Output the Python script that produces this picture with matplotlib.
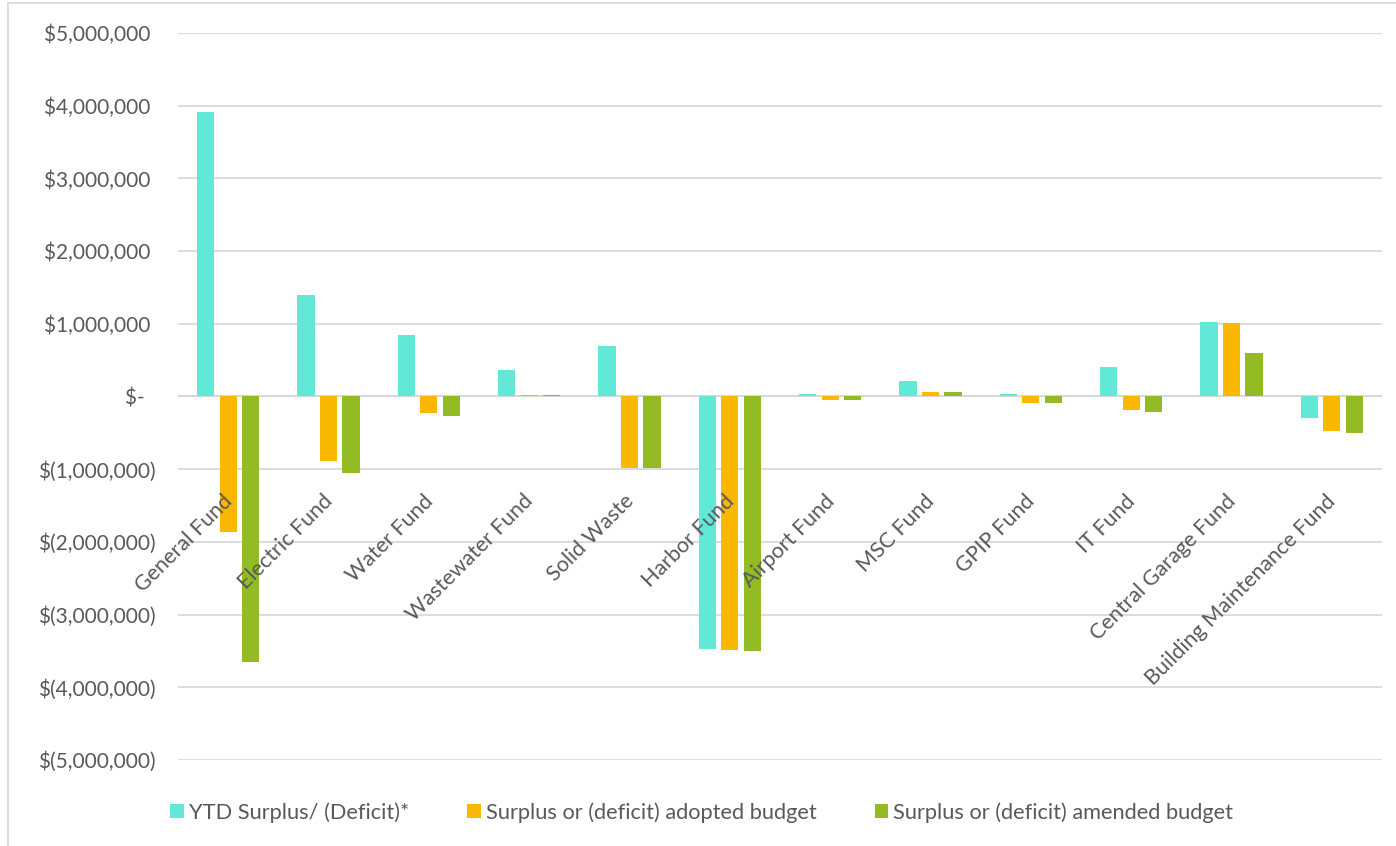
import matplotlib
matplotlib.use("Agg")
import matplotlib.pyplot as plt
import matplotlib.patches as phs
import matplotlib.ticker as tkr
import numpy as np

plt.rcParams['font.family'] = ['Lato', 'DejaVu Sans']

funds = ["General Fund", "Electric Fund", "Water Fund", "Wastewater Fund", "Solid Waste",
         "Harbor Fund", "Airport Fund", "MSC Fund", "GPIP Fund", "IT Fund",
         "Central Garage Fund", "Building Maintenance Fund"]
ytd = [3910000, 1390000, 840000, 370000, 700000, -3470000, 30000, 220000, 40000, 410000, 1030000, -300000]
adopted = [-1860000, -890000, -230000, 20000, -980000, -3490000, -50000, 60000, -90000, -180000, 1010000, -480000]
amended = [-3650000, -1050000, -270000, 20000, -980000, -3500000, -50000, 60000, -90000, -210000, 600000, -500000]
labels = ["YTD Surplus/ (Deficit)*", "Surplus or (deficit) adopted budget", "Surplus or (deficit) amended budget"]
colors = ["#62E8D7", "#FBB800", "#92BB24"]

txtColor = "#595959"
gridColor = "#D9D9D9"

fig = plt.figure(figsize=(13.96, 8.46), dpi=100)
ax = fig.add_axes([178/1396, 1-760/846, (1382-178)/1396, (760-33)/846])

x = np.arange(len(funds))
w = 0.17
off = 0.224
for i, vals in enumerate([ytd, adopted, amended]):
  ax.bar(x + (i-1)*off, vals, w, color=colors[i], label=labels[i], zorder=3)

ax.set_xlim(-0.5, len(funds)-0.5)
ax.set_ylim(-5000000, 5000000)
ax.set_yticks(np.arange(-5000000, 5000001, 1000000))

def money(v, pos):
  if v == 0:
    return "$-  "
  if v < 0:
    return "$(%s)" % format(int(-v), ",")
  return "$%s " % format(int(v), ",")

ax.yaxis.set_major_formatter(tkr.FuncFormatter(money))
ax.tick_params(axis="y", length=0, pad=16, labelsize=15, labelcolor=txtColor)
ax.tick_params(axis="x", length=0, labelbottom=False)
ax.grid(axis="y", color=gridColor, lw=1.3, zorder=0)
for s in ax.spines.values():
  s.set_visible(False)
ax.axhline(0, color=gridColor, lw=1.5, zorder=2)

# category labels, rotated like excel
for i, f in enumerate(funds):
  ax.text(i - 0.06, -1300000, f, rotation=45, ha="right", va="top", rotation_mode="anchor",
          fontsize=15.5, color=txtColor)

leg = fig.legend(loc="upper left", bbox_to_anchor=(170/1396, 1-802/846), ncol=3, frameon=False,
                 fontsize=15.7, labelcolor=txtColor, handlelength=0.62, handleheight=0.62,
                 handletextpad=0.25, columnspacing=2.65, borderpad=0, borderaxespad=0)

# chart border
fig.patches.append(phs.Rectangle((8/1396, -0.01), 1.1, 1-3/846+0.01, transform=fig.transFigure,
                                 fill=False, ec=gridColor, lw=1.3))

fig.savefig("out.png", dpi=100)
